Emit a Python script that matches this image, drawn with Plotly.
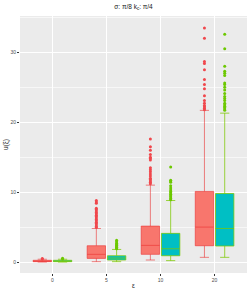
import plotly.graph_objects as go

categories = ["0", "5", "10", "20"]

# group A (red fill)
a_low = [0.0, 0.05, 0.29, 0.67]
a_q1 = [0.05, 0.52, 1.1, 2.33]
a_med = [0.12, 1.1, 2.38, 5.0]
a_q3 = [0.25, 2.33, 5.14, 10.1]
a_high = [0.4, 4.8, 11.0, 21.7]
a_out = [
    [0.45, 0.5],
    [4.95, 5.1, 5.3, 5.5, 5.7, 5.9, 6.1, 6.3, 6.5, 6.7, 6.9, 7.1, 7.3, 7.5, 7.7, 8.4, 8.6, 8.8],
    [11.2, 11.4, 11.6, 11.8, 12.0, 12.3, 12.6, 12.9, 13.2, 13.5, 14.6, 14.8, 15.0, 15.4, 16.0, 16.5, 17.6],
    [21.8, 22.0, 22.2, 22.4, 22.7, 23.1, 23.8, 24.8, 25.4, 26.1, 27.5, 28.4, 28.7, 32.0, 33.5],
]

# group B (cyan fill)
b_low = [0.0, 0.05, 0.2, 0.67]
b_q1 = [0.05, 0.29, 0.9, 2.29]
b_med = [0.12, 0.57, 1.9, 4.8]
b_q3 = [0.25, 0.9, 4.1, 9.8]
b_high = [0.4, 1.8, 8.8, 21.3]
b_out = [
    [0.45, 0.55],
    [1.9, 2.0, 2.1, 2.2, 2.3, 2.4, 2.5, 2.7, 2.9, 3.1],
    [8.9, 9.1, 9.3, 9.5, 9.7, 9.9, 10.1, 10.3, 10.6, 10.9, 11.4, 11.6, 11.7, 13.6],
    [21.7, 21.9, 22.1, 22.3, 22.5, 22.7, 23.1, 23.4, 23.7, 24.1, 24.6, 25.0, 25.4, 25.6,
     26.7, 27.0, 27.3, 28.0, 30.5, 32.6],
]

y_ticks = [0, 10, 20, 30]

pos = list(range(1, len(categories) + 1))
off = 0.1875
bw = 0.34

RED_FILL = "#F8766D"
RED_LINE = "rgba(235,50,50,0.6)"
RED_PT = "#F0474C"
CY_FILL = "#00BFC4"
GR_LINE = "rgba(124,200,0,0.75)"
GR_PT = "#6CC800"

fig = go.Figure()

for lows, q1, med, q3, highs, outs, sgn, fill, line, pt in [
    (a_low, a_q1, a_med, a_q3, a_high, a_out, -1, RED_FILL, RED_LINE, RED_PT),
    (b_low, b_q1, b_med, b_q3, b_high, b_out, 1, CY_FILL, GR_LINE, GR_PT),
]:
    xs = [p + sgn * off for p in pos]
    fig.add_trace(go.Box(
        x=xs, q1=q1, median=med, q3=q3, lowerfence=lows, upperfence=highs,
        width=bw, boxpoints=False, fillcolor=fill,
        line=dict(color=line, width=1), showlegend=False, hoverinfo="skip",
    ))
    ox, oy = [], []
    for x, vals in zip(xs, outs):
        ox += [x] * len(vals)
        oy += vals
    fig.add_trace(go.Scatter(
        x=ox, y=oy, mode="markers",
        marker=dict(color=pt, size=3, line=dict(width=0)),
        showlegend=False, hoverinfo="skip",
    ))

fig.update_layout(
    width=249, height=291,
    margin=dict(l=20, r=2, t=16, b=18, autoexpand=False),
    paper_bgcolor="white", plot_bgcolor="#EBEBEB",
    font=dict(family="Liberation Sans", size=5, color="#4D4D4D"),
    title=dict(text="σ: π/8 k<sub>c</sub>: π/4", x=0.5, xref="paper", xanchor="center",
               y=0.977, yref="container", yanchor="middle",
               font=dict(size=6.5, color="#1A1A1A")),
    xaxis=dict(
        range=[0.4, 4.6], tickvals=pos, ticktext=categories, showgrid=True,
        gridcolor="white", gridwidth=1, zeroline=False, ticks="outside", ticklen=2,
        tickcolor="#333333", tickwidth=0.5, tickfont=dict(size=5, color="#4D4D4D"),
        title=dict(text="ε", font=dict(size=6.5, color="#1A1A1A"), standoff=1),
        automargin=False,
    ),
    yaxis=dict(
        range=[-1.57, 35.2], tickvals=y_ticks, showgrid=True, gridcolor="white",
        gridwidth=1, zeroline=False, ticks="outside", ticklen=2, tickcolor="#333333",
        tickwidth=0.5, tickfont=dict(size=5, color="#4D4D4D"),
        minor=dict(dtick=5, tick0=0, showgrid=True, gridcolor="#F7F7F7", gridwidth=0.5, ticklen=0),
        title=dict(text="u(ξ)", font=dict(size=6.5, color="#1A1A1A"), standoff=1),
        automargin=False,
    ),
)

fig.write_html("out.html", config={"displayModeBar": False},
               post_script="document.body.style.margin='0';")
